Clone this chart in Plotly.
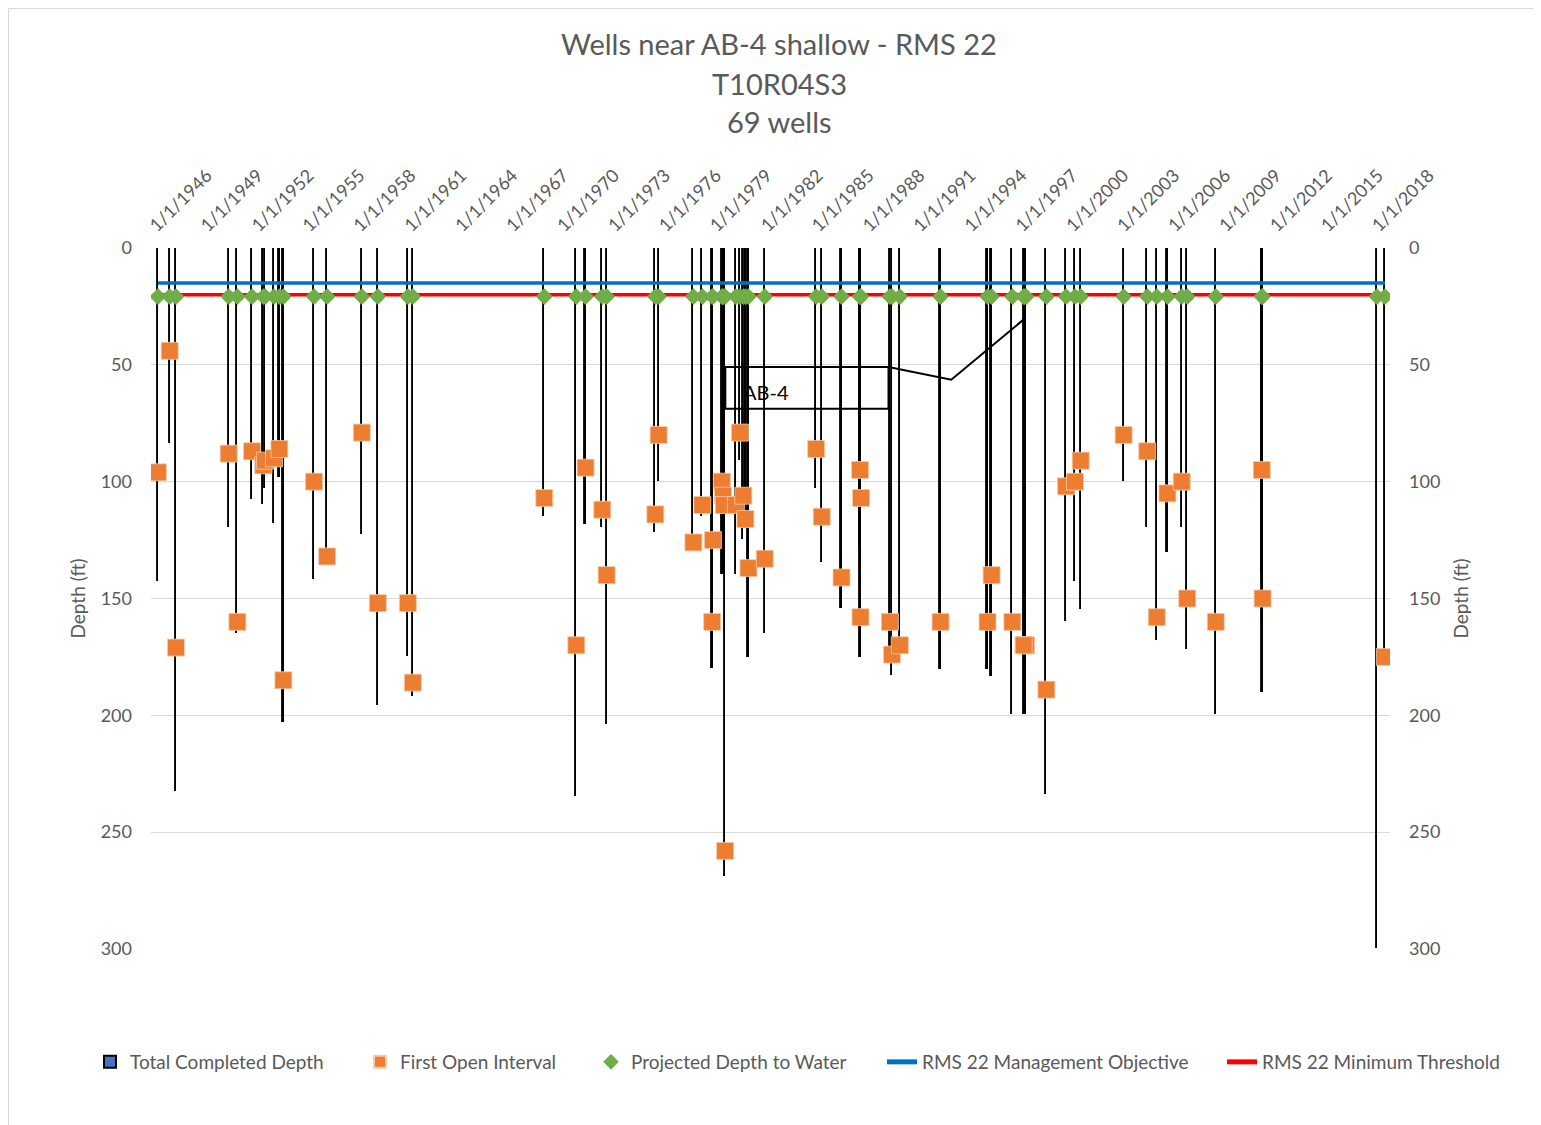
import plotly.graph_objects as go

# ---------------- data ----------------
well_dates = [
    "1946-05-30", "1947-02-07", "1947-06-22", "1950-07-31", "1951-02-02",
    "1951-12-15", "1952-08-15", "1952-09-21", "1953-04-02", "1953-07-26",
    "1953-10-20", "1955-08-11", "1956-05-18", "1958-06-04", "1959-05-14",
    "1961-02-19", "1961-06-06", "1969-03-04", "1971-01-22", "1971-08-10",
    "1972-08-04", "1972-11-05", "1975-09-19", "1975-11-29", "1977-12-16",
    "1978-06-27", "1979-02-09", "1979-01-24", "1979-08-21", "1979-09-12",
    "1979-10-03", "1979-10-29", "1980-06-18", "1980-09-12", "1980-11-26",
    "1981-01-09", "1981-03-15", "1982-03-01", "1985-03-11", "1985-07-10",
    "1986-09-07", "1987-10-11", "1987-11-01", "1987-10-21", "1989-07-14",
    "1989-08-30", "1990-02-14", "1992-07-09", "1995-04-16", "1995-07-12",
    "1996-10-01", "1997-06-22", "1997-07-24", "1997-06-01", "1998-10-03",
    "1999-11-30", "2000-06-10", "2000-10-11", "2003-04-23", "2004-09-12",
    "2005-04-05", "2005-11-21", "2006-09-24", "2007-01-20", "2008-09-26",
    "2011-06-13", "2011-06-30", "2018-03-25", "2018-09-13",
]
total_depth = [
    143, 84, 233, 120, 165,
    108, 110, 103, 118, 98,
    203, 142, 132, 123, 196,
    175, 192, 115, 235, 118,
    120, 204, 122, 100, 128,
    115, 180, 180, 140, 140,
    140, 269, 140, 91, 125,
    120, 175, 165, 103, 135,
    154, 128, 128, 175, 175,
    183, 175, 180, 180, 183,
    200, 200, 200, 200, 234,
    160, 143, 155, 100, 120,
    168, 130, 120, 172, 200,
    140, 190, 300, 175,
]
first_open = [
    96, 44, 171, 88, 160,
    87, 93, 91, 90, 86,
    185, 100, 132, 79, 152,
    152, 186, 107, 170, 94,
    112, 140, 114, 80, 126,
    110, 125, 160, 100, 106,
    110, 258, 110, 79, 106,
    116, 137, 133, 86, 115,
    141, 95, 107, 158, 160,
    174, 170, 160, 160, 140,
    160, 170, 170, 170, 189,
    102, 100, 91, 80, 87,
    158, 105, 100, 150, 160,
    95, 150, None, 175,
]
water_depth = [
    20.8, 20.8, 20.8, 20.8, 20.8, 20.8, 20.8, 20.8, 20.8, 20.8,
    20.8, 20.8, 20.8, 20.8, 20.8, 20.8, 20.8, 20.8, 20.8, 20.8,
    20.8, 20.8, 20.8, 20.8, 20.8, 20.8, 20.8, 20.8, 20.8, 20.8,
    20.8, 20.8, 20.8, 20.8, 20.8, 20.8, 20.8, 20.8, 20.8, 20.8,
    20.8, 20.8, 20.8, 20.8, 20.8, 20.8, 20.8, 20.8, 20.8, 20.8,
    20.8, 20.8, 20.8, 20.8, 20.8, 20.8, 20.8, 20.8, 20.8, 20.8,
    20.8, 20.8, 20.8, 20.8, 20.8, 20.8, 20.8, 20.8, 20.8,
]
management_objective = 15
minimum_threshold = 20
line_span = ["1946-05-30", "2018-09-13"]

tick_years = [1946, 1949, 1952, 1955, 1958, 1961, 1964, 1967, 1970, 1973, 1976,
              1979, 1982, 1985, 1988, 1991, 1994, 1997, 2000, 2003, 2006, 2009,
              2012, 2015, 2018]
tick_vals = [f"{y}-01-01" for y in tick_years]
tick_text = [f"1/1/{y}" for y in tick_years]
y_ticks = [0, 50, 100, 150, 200, 250, 300]

# callout (AB-4) geometry
callout_box = dict(x0="1979-11-03", x1="1989-06-15", y0=50.9, y1=68.8)
callout_leader_x = ["1989-06-15", "1993-02-24", "1997-07-13"]
callout_leader_y = [50.9, 56.4, 29.9]
callout_text_pos = ("1982-04-06", 61.5)

FONT = "Lato"
GRAY = "#595959"


def px_x(sx):
    return (sx - 151) / 1239


def px_y(sy):
    return (949 - sy) / 701


fig = go.Figure()

fig.add_trace(go.Bar(
    x=well_dates, y=total_depth, base=0,
    width=4.0e8,
    marker=dict(color="#4472C4", line=dict(color="black", width=1.9)),
    name="Total Completed Depth", legend="legend",
))

fig.add_trace(go.Scatter(
    x=line_span, y=[management_objective] * 2, mode="lines",
    line=dict(color="#0070C0", width=3.5),
    name="RMS 22 Management Objective", legend="legend4",
))
fig.add_trace(go.Scatter(
    x=line_span, y=[minimum_threshold] * 2, mode="lines",
    line=dict(color="#FF0000", width=3.5),
    name="RMS 22 Minimum Threshold", legend="legend5",
))
fig.add_trace(go.Scatter(
    x=well_dates, y=water_depth, mode="markers",
    marker=dict(symbol="diamond", size=13, color="#70AD47"),
    name="Projected Depth to Water", legend="legend3",
))
fig.add_trace(go.Scatter(
    x=well_dates, y=first_open, mode="markers",
    marker=dict(symbol="square", size=17, color="#ED7D31",
                line=dict(color="#F8CBAD", width=0.8)),
    name="First Open Interval", legend="legend2",
))
# invisible trace so that the right-hand depth axis is drawn
fig.add_trace(go.Scatter(x=[None], y=[None], yaxis="y2", showlegend=False,
                         hoverinfo="skip"))

# callout
fig.add_shape(type="rect", xref="x", yref="y", **callout_box,
              line=dict(color="black", width=2))
fig.add_trace(go.Scatter(
    x=callout_leader_x, y=callout_leader_y, mode="lines",
    line=dict(color="black", width=2), showlegend=False, hoverinfo="skip",
))
fig.add_annotation(x=callout_text_pos[0], y=callout_text_pos[1], xref="x", yref="y",
                   text="AB-4", showarrow=False,
                   font=dict(family=FONT, size=20, color="black"))

# titles
for txt, yp in [("Wells near AB-4 shallow - RMS 22", 44),
                ("T10R04S3", 83), ("69 wells", 122)]:
    fig.add_annotation(x=px_x(779), y=px_y(yp),
                       xref="paper", yref="paper", text=txt, showarrow=False,
                       xanchor="center", yanchor="middle",
                       font=dict(family=FONT, size=29, color=GRAY))

# chart border
fig.add_shape(type="rect", xref="paper", yref="paper",
              x0=px_x(8.5), x1=px_x(1545), y0=px_y(1130), y1=px_y(8.5),
              line=dict(color="#D9D9D9", width=1))

legend_common = dict(orientation="h", xanchor="left", yanchor="middle",
                     y=px_y(1062), font=dict(family=FONT, size=19, color=GRAY),
                     itemsizing="constant", bgcolor="rgba(0,0,0,0)")

fig.update_layout(
    width=1533, height=1117,
    margin=dict(l=143, r=151, t=240, b=176),
    paper_bgcolor="white", plot_bgcolor="white",
    font=dict(family=FONT, size=17, color=GRAY),
    bargap=0, showlegend=True,
    legend=dict(x=px_x(90), **legend_common),
    legend2=dict(x=px_x(360), **legend_common),
    legend3=dict(x=px_x(591), **legend_common),
    legend4=dict(x=px_x(882), **legend_common),
    legend5=dict(x=px_x(1222), **legend_common),
    xaxis=dict(type="date", side="top", range=["1946-01-01", "2019-01-01"],
               tickvals=tick_vals, ticktext=tick_text, tickangle=-45,
               showgrid=False, zeroline=False, showline=False, ticks="",
               ticklabelstandoff=8,
               tickfont=dict(family=FONT, size=18, color=GRAY)),
    yaxis=dict(range=[300, 0], tickvals=y_ticks, showgrid=True,
               gridcolor="#D9D9D9", gridwidth=1, zeroline=False, showline=False,
               ticklabelstandoff=18,
               title=dict(text="Depth (ft)", standoff=10,
                          font=dict(family=FONT, size=19, color=GRAY)),
               tickfont=dict(family=FONT, size=18, color=GRAY), ticks=""),
    yaxis2=dict(range=[300, 0], tickvals=y_ticks, overlaying="y", side="right",
                showgrid=False, zeroline=False, showline=False,
                ticklabelstandoff=18,
                title=dict(text="Depth (ft)", standoff=15,
                           font=dict(family=FONT, size=19, color=GRAY)),
                tickfont=dict(family=FONT, size=18, color=GRAY), ticks=""),
)

fig.write_html("out.html")
